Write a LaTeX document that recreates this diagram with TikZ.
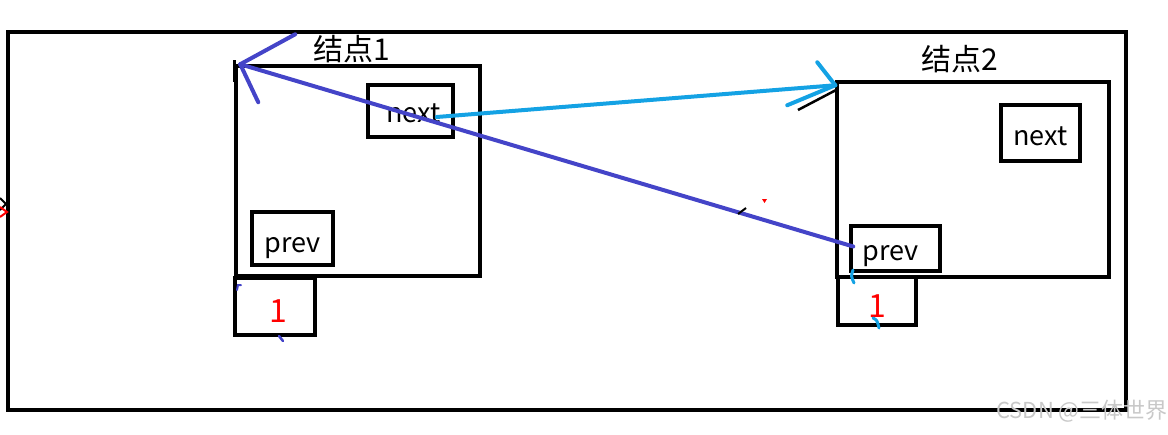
\documentclass[tikz,border=0pt]{standalone}
\usepackage{fontspec}
\setmainfont{Noto Sans CJK SC}
\usetikzlibrary{calc}
\newcommand{\lowered}[2]{\raisebox{-#1}[0pt][0pt]{#2}}
\begin{document}
\begin{tikzpicture}[x=1pt,y=-1pt,
  frame/.style={draw=black,line width=4pt},
  box/.style={draw=black,line width=3.5pt,inner sep=0pt},
  field/.style={draw=black,line width=3.5pt,inner sep=0pt,font=\fontsize{27}{27}\selectfont},
  val/.style={draw=black,line width=3.5pt,inner sep=0pt,text=red,font=\fontsize{32}{32}\selectfont},
  title/.style={font=\fontsize{30}{30}\selectfont,inner sep=0pt},
  blueline/.style={draw={rgb,255:red,68;green,68;blue,200},line width=4pt,line cap=round},
  cyanline/.style={draw={rgb,255:red,20;green,162;blue,228},line width=4pt,line cap=round}]
\useasboundingbox (0,0) rectangle (1168,434);
% outer frame
\node[frame,minimum width=1118pt,minimum height=378pt,inner sep=0pt] (outer) at (567,221) {};
% node 1
\node[box,minimum width=244pt,minimum height=210pt] (n1) at (358,171) {};
\node[field,minimum width=85pt,minimum height=52pt] (nx1) at (410.5,111) {\hspace*{6pt}\lowered{11pt}{next}};
\node[field,minimum width=81pt,minimum height=53pt] (pv1) at (292.5,238.5) {\lowered{13.5pt}{prev}};
\node[val,minimum width=80pt,minimum height=57pt] (v1) at (275,306.5) {\hspace*{6pt}\lowered{15.5pt}{1}};
\node[title] (t1) at (352,49) {结点1};
% node 2
\node[box,minimum width=272pt,minimum height=195pt] (n2) at (973,179.5) {};
\node[field,minimum width=79pt,minimum height=56pt] (nx2) at (1040.5,133) {\lowered{12pt}{next}};
\node[field,minimum width=89pt,minimum height=45pt] (pv2) at (895.5,248.5) {\hspace*{-10pt}\lowered{11.5pt}{prev}};
\node[val,minimum width=78pt,minimum height=48pt] (v2) at (877,301) {\lowered{16pt}{1}};
\node[title] (t2) at (960,59) {结点2};
% stray black marks under arrow heads
\draw[black,line width=2.5pt] ($(n1.north west)+(0,-4)$) -- ++(0,22);
\draw[black,line width=2.5pt] (798,110) -- (838,89);
% connectors
\coordinate (a1) at ($(n1.north west)+(6,0)$);
\coordinate (s1) at ($(pv2.west)+(4,-2)$);
\draw[blueline] (s1) -- (a1);
\draw[blueline] (a1) -- ++(55,-30);
\draw[blueline] (a1) -- ++(18,38);
\coordinate (s2) at ($(nx1.east)+(-18,6)$);
\coordinate (a2) at ($(n2.north west)+(0,5)$);
\draw[cyanline] (s2) -- (a2);
\draw[cyanline] (a2) -- ++(-18,-23);
\draw[cyanline] (a2) -- ++(-48,20);
% small stray marks
\draw[black,line width=2pt] (738,214) -- (746,208);
\fill[red] (762,199) -- (767,199) -- (764.5,203) -- cycle;
\draw[black,line width=2pt] (0,198) -- (6,204) -- (0,210);
\draw[red,line width=2pt] (0,207) -- (7,212) -- (0,217);
\draw[cyanline,line width=3pt] (853,270) .. controls (851,276) .. (854,283);
\draw[cyanline,line width=3pt] (873,318) .. controls (877,320) .. (879,328);
\draw[blueline,line width=2pt] (237,290) -- (238,285) -- (241,285);
\draw[blueline,line width=2.5pt] (279,336) -- (283,341);
% watermark
\node[font=\fontsize{22}{22}\selectfont,text={rgb,255:red,200;green,200;blue,200},inner sep=0pt] (wm) at (1082,411) {CSDN @三体世界};
\end{tikzpicture}
\end{document}
